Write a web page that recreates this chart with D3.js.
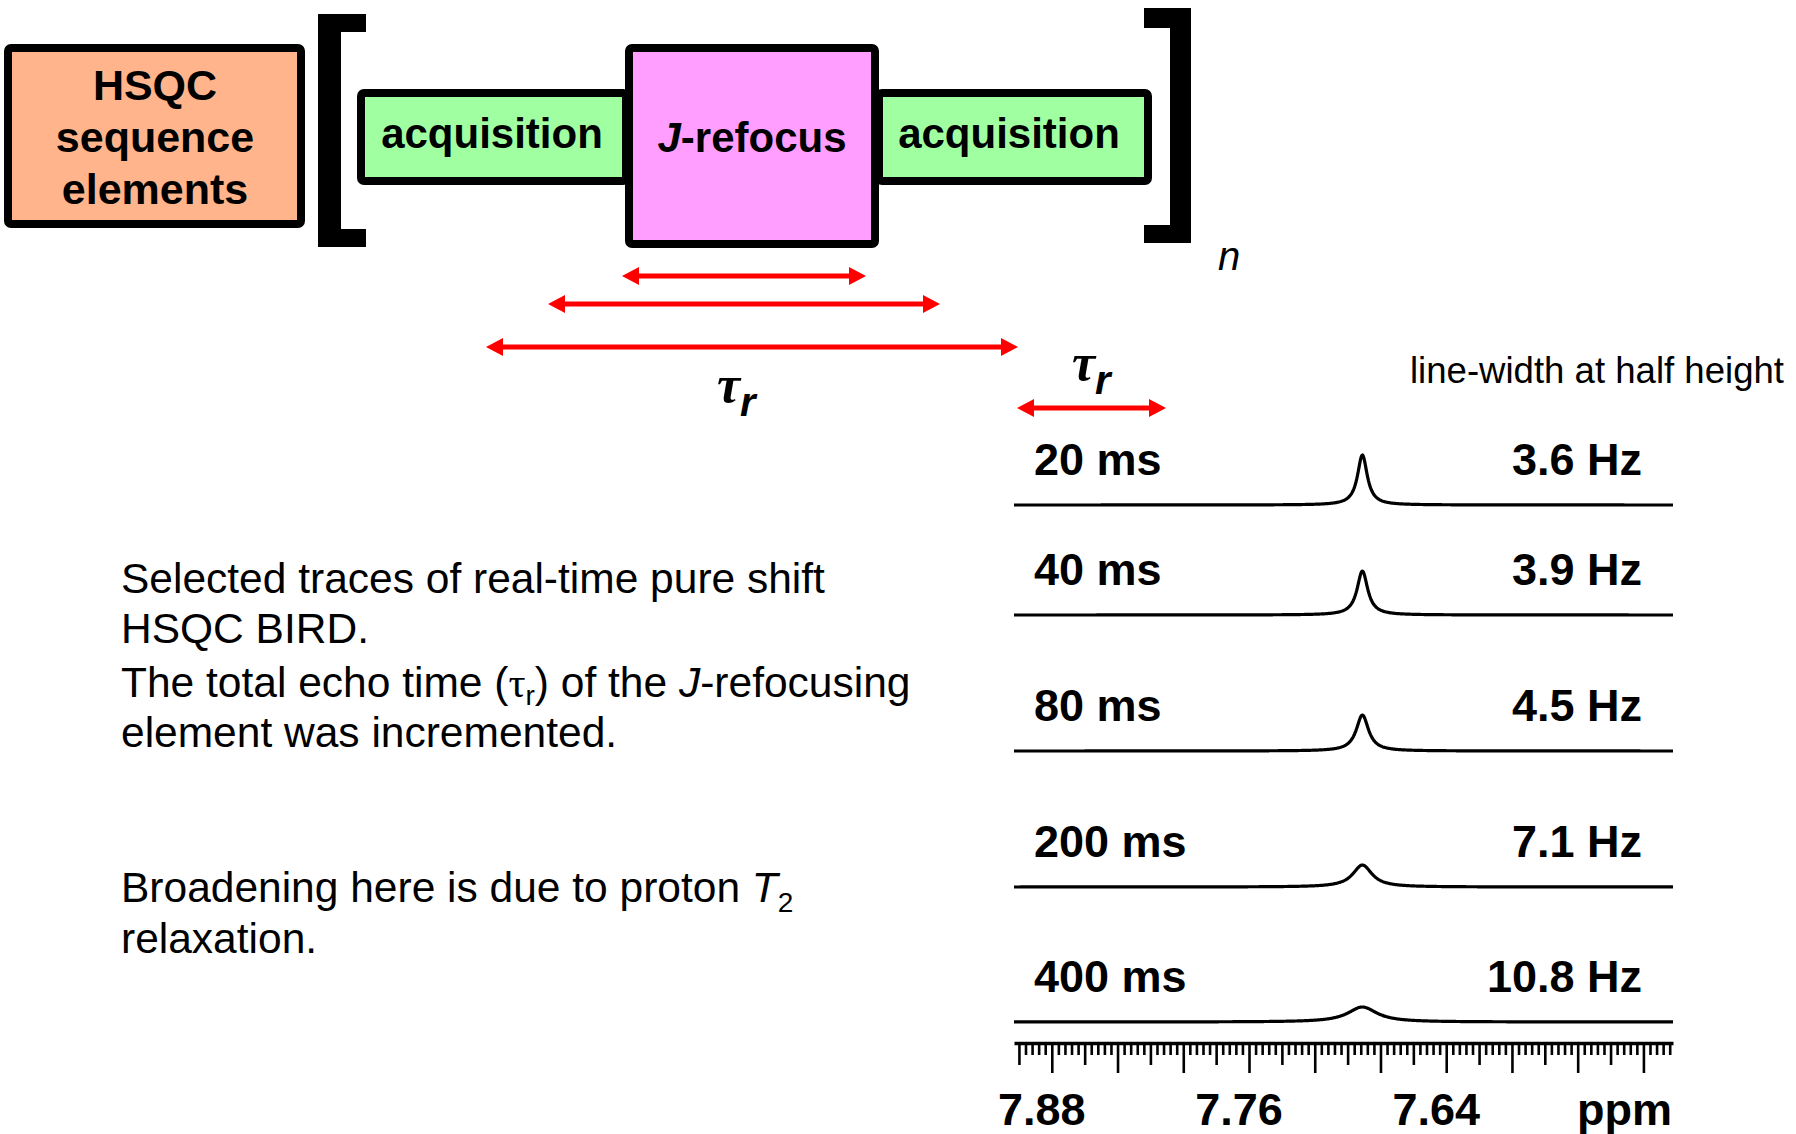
<!DOCTYPE html>
<html><head><meta charset="utf-8">
<script src="https://cdn.jsdelivr.net/npm/d3@7"></script>
<style>
body{margin:0;background:#fff}
svg{display:block}
text{font-family:"Liberation Sans",Arial,Helvetica,sans-serif;fill:#000}
</style>
</head><body>
<svg id="fig" width="1796" height="1134"></svg>
<script>
// ---- spectral traces: echo time, line-width at half height, relative peak height
const echoTimesMs = [20, 40, 80, 200, 400];
const halfHeightWidthHz = [3.6, 3.9, 4.5, 7.1, 10.8];
const relPeakHeight = [1.00, 0.88, 0.72, 0.44, 0.30];
const peakShiftPpm = 7.691;
const spectrometerMHz = 500;

// ---- ppm axis
const ppmTickLabels = [7.88, 7.76, 7.64];
const ppmRange = [7.903, 7.502];

// ---- pulse-sequence blocks
const seqBlocks = ["acquisition", "J-refocus", "acquisition"];

const svg = d3.select("#fig");
const SANS = '"Liberation Sans",Arial,sans-serif';
const SERIF = '"Liberation Serif","Times New Roman",serif';

/* ---------- pulse-sequence schematic ---------- */
const g = svg.append("g");

function box(x0, y0, x1, y1, fill, sw) {
  g.append("rect")
    .attr("x", x0 + sw / 2).attr("y", y0 + sw / 2)
    .attr("width", x1 - x0 - sw).attr("height", y1 - y0 - sw)
    .attr("rx", 3)
    .attr("fill", fill).attr("stroke", "#000").attr("stroke-width", sw);
}

// HSQC block
box(4, 44, 305, 228, "#ffb48c", 8);
["HSQC", "sequence", "elements"].forEach((t, i) => {
  g.append("text").attr("x", 155).attr("y", 100 + i * 52)
    .attr("text-anchor", "middle").attr("font-weight", "bold")
    .attr("font-size", 43).text(t);
});

// acquisition / J-refocus / acquisition
box(357, 89, 630, 185, "#a0ffa0", 8);
box(875, 89, 1152, 185, "#a0ffa0", 8);
box(625, 44, 879, 248, "#ff9eff", 8);

g.append("text").attr("x", 492).attr("y", 148).attr("text-anchor", "middle")
  .attr("font-weight", "bold").attr("font-size", 42).text(seqBlocks[0]);
g.append("text").attr("x", 1009).attr("y", 148).attr("text-anchor", "middle")
  .attr("font-weight", "bold").attr("font-size", 42).text(seqBlocks[2]);
const jt = g.append("text").attr("x", 752).attr("y", 152).attr("text-anchor", "middle")
  .attr("font-weight", "bold").attr("font-size", 42);
jt.append("tspan").attr("font-style", "italic").text(seqBlocks[1].slice(0, 1));
jt.append("tspan").text(seqBlocks[1].slice(1));

// repeat brackets
g.append("path").attr("fill", "#000")
  .attr("d", "M318,14 H366 V32 H341 V229 H366 V247 H318 Z");
g.append("path").attr("fill", "#000")
  .attr("d", "M1191,8 H1144 V28 H1170 V225 H1144 V243 H1191 Z");
g.append("text").attr("x", 1218).attr("y", 270).attr("font-style", "italic")
  .attr("font-size", 40).text("n");

// echo-time arrows
function dblArrow(x0, x1, y) {
  const hl = 17, hw = 9;
  g.append("line").attr("x1", x0 + hl - 2).attr("x2", x1 - hl + 2)
    .attr("y1", y).attr("y2", y).attr("stroke", "#ff0000").attr("stroke-width", 5);
  g.append("path").attr("fill", "#ff0000")
    .attr("d", `M${x0},${y} L${x0 + hl},${y - hw} L${x0 + hl},${y + hw} Z`);
  g.append("path").attr("fill", "#ff0000")
    .attr("d", `M${x1},${y} L${x1 - hl},${y - hw} L${x1 - hl},${y + hw} Z`);
}
dblArrow(622, 866, 276);
dblArrow(548, 940, 304);
dblArrow(486, 1018, 347);
dblArrow(1017, 1166, 408);

function tauR(xp, yp) {
  const t = g.append("text").attr("x", xp).attr("y", yp);
  t.append("tspan").attr("font-family", SERIF).attr("font-weight", "bold")
    .attr("font-style", "italic").attr("font-size", 52).text("\u03C4");
  t.append("tspan").attr("font-family", SANS).attr("font-weight", "bold")
    .attr("font-style", "italic").attr("font-size", 40).attr("dy", 14).text("r");
}
tauR(717, 402);
tauR(1072, 380);

g.append("text").attr("x", 1410).attr("y", 383).attr("font-size", 37)
  .attr("textLength", 374).attr("lengthAdjust", "spacingAndGlyphs")
  .text("line-width at half height");

/* ---------- description text ---------- */
const d = svg.append("g").attr("font-size", 42.5);
d.append("text").attr("x", 121).attr("y", 593).text("Selected traces of real-time pure shift");
d.append("text").attr("x", 121).attr("y", 643).text("HSQC BIRD.");
const l3 = d.append("text").attr("x", 121).attr("y", 697);
l3.append("tspan").text("The total echo time (");
l3.append("tspan").attr("font-family", SERIF).text("\u03C4");
l3.append("tspan").attr("font-size", 28).attr("dy", 8).text("r");
l3.append("tspan").attr("dy", -8).text(") of the ");
l3.append("tspan").attr("font-style", "italic").text("J");
l3.append("tspan").text("-refocusing");
d.append("text").attr("x", 121).attr("y", 747).text("element was incremented.");
const l5 = d.append("text").attr("x", 121).attr("y", 902);
l5.append("tspan").text("Broadening here is due to proton ");
l5.append("tspan").attr("font-style", "italic").text("T");
l5.append("tspan").attr("font-size", 28).attr("dy", 10).text("2");
d.append("text").attr("x", 121).attr("y", 953).text("relaxation.");

/* ---------- spectra ---------- */
const x = d3.scaleLinear().domain(ppmRange).range([1014, 1673]);
const traceBaseY = [505, 615, 751, 887, 1022];
const nPts = 900;
const grid = d3.range(nPts + 1).map(i => ppmRange[0] + (ppmRange[1] - ppmRange[0]) * i / nPts);

const sp = svg.append("g");
echoTimesMs.forEach((tau, k) => {
  const base = traceBaseY[k];
  const y = d3.scaleLinear().domain([0, 1]).range([base, base - 50]);
  const hw = halfHeightWidthHz[k] / spectrometerMHz / 2; // half width, ppm
  const lor = p => relPeakHeight[k] / (1 + Math.pow((p - peakShiftPpm) / hw, 2));
  const line = d3.line().x(p => x(p)).y(p => y(lor(p))).curve(d3.curveLinear);
  sp.append("path").datum(grid).attr("d", line)
    .attr("fill", "none").attr("stroke", "#000").attr("stroke-width", 3.2)
    .attr("stroke-linejoin", "round");
  sp.append("text").attr("x", 1034).attr("y", base - 30)
    .attr("font-weight", "bold").attr("font-size", 45).text(`${tau} ms`);
  sp.append("text").attr("x", 1642).attr("y", base - 30).attr("text-anchor", "end")
    .attr("font-weight", "bold").attr("font-size", 45)
    .text(`${halfHeightWidthHz[k].toFixed(1)} Hz`);
});

/* ---------- ppm scale ---------- */
const tickIdx = d3.range(100);             // one tick every 0.004 ppm from 7.900
const tickPpm = i => +(7.900 - i * 0.004).toFixed(3);
const minorT = tickIdx.filter(i => i % 5 !== 0).map(tickPpm);
const medT = tickIdx.filter(i => i % 10 === 0).map(tickPpm);
const majT = tickIdx.filter(i => i % 10 === 5).map(tickPpm);

function axisLayer(vals, size, withDomain) {
  const a = svg.append("g").attr("transform", "translate(0,1043)")
    .call(d3.axisBottom(x).tickValues(vals).tickSize(size).tickSizeOuter(0).tickFormat(""));
  a.selectAll(".tick line").attr("stroke", "#000").attr("stroke-width", 2.6);
  if (withDomain) a.select(".domain").attr("stroke", "#000").attr("stroke-width", 3.5);
  else a.select(".domain").remove();
  a.selectAll(".tick text").remove();
}
axisLayer(minorT, 12, true);
axisLayer(medT, 22, false);
axisLayer(majT, 30, false);

svg.append("g").selectAll("text").data(ppmTickLabels).join("text")
  .attr("x", v => x(v) - 10).attr("y", 1125).attr("text-anchor", "middle")
  .attr("font-weight", "bold").attr("font-size", 45).text(v => v.toFixed(2));
svg.append("text").attr("x", 1672).attr("y", 1125).attr("text-anchor", "end")
  .attr("font-weight", "bold").attr("font-size", 45).text("ppm");
</script>
</body></html>
